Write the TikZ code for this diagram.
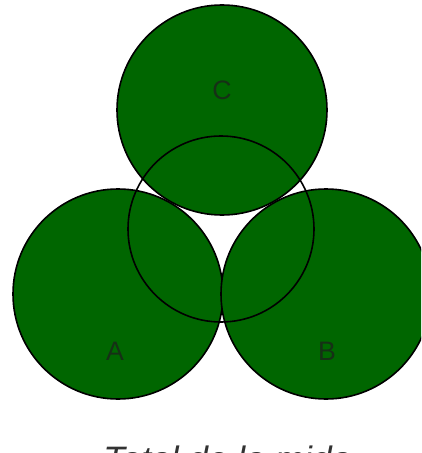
\documentclass[tikz,border=0pt]{standalone}
\usepackage{fontspec}
\setmainfont{Liberation Sans}
\definecolor{vgreen}{RGB}{0,102,0}
\definecolor{vlabel}{RGB}{22,48,22}
\definecolor{vcap}{RGB}{50,50,50}
\tikzset{
  setcircle/.style={draw=black, line width=1.2pt, fill=vgreen},
  overlay circle/.style={draw=black, line width=1.2pt},
  setlabel/.style={text=vlabel, font=\fontsize{20}{24}\selectfont, inner sep=0pt},
  captiontext/.style={text=vcap, font=\itshape\fontsize{26.5}{30}\selectfont, inner sep=0pt, anchor=base west}
}
\begin{document}
\begin{tikzpicture}[x=0.75pt, y=-0.75pt]
\useasboundingbox (0,0) rectangle (421,453);
\clip (0,0) rectangle (421,453);
\fill[white] (0,0) rectangle (421,453);
\draw[setcircle] (118,294) circle[radius=105];
\draw[setcircle] (326,294) circle[radius=105];
\draw[setcircle] (222,110) circle[radius=105];
\draw[overlay circle] (221,229) circle[radius=93];
\node[setlabel] (lc) at (222,90) {C};
\node[setlabel] (la) at (115,351) {A};
\node[setlabel] (lb) at (327,351) {B};
\node[captiontext] (cap) at (103,471) {Total de la mida};
\end{tikzpicture}
\end{document}
